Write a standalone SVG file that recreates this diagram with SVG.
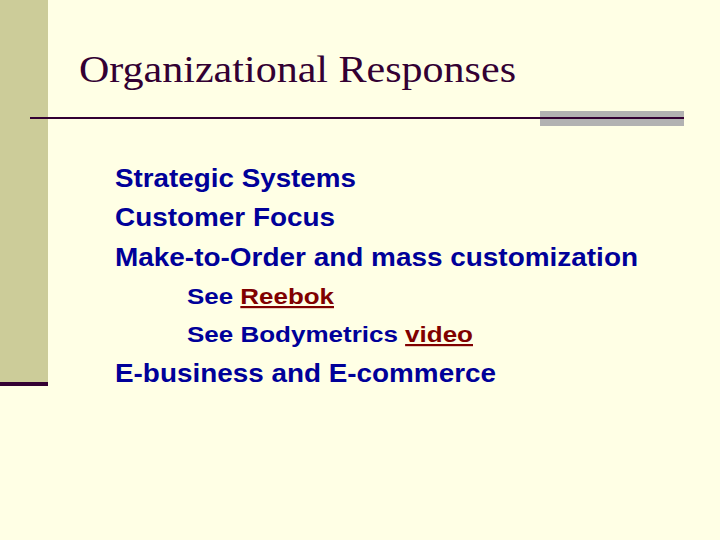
<svg xmlns="http://www.w3.org/2000/svg" width="720" height="540" viewBox="0 0 720 540">
<style>
.b{font-family:"Liberation Sans",Arial,sans-serif;font-weight:bold;fill:#000099}
.l{font-size:25px}
.s{font-size:22px}
.k{fill:#800000;text-decoration:underline}
</style>
<rect width="720" height="540" fill="#FFFFE5"/>
<rect x="0" y="0" width="48" height="382" fill="#CCCC99"/>
<rect x="0" y="382" width="48" height="4" fill="#330033"/>
<rect x="540" y="111" width="144" height="15" fill="#B2B2B2"/>
<rect x="30" y="117" width="654" height="2" fill="#330033"/>
<text x="79" y="82" font-family="'Liberation Serif','Times New Roman',serif" font-size="38" fill="#330033" textLength="437" lengthAdjust="spacingAndGlyphs">Organizational Responses</text>
<text class="b l" x="115" y="187" textLength="241" lengthAdjust="spacingAndGlyphs">Strategic Systems</text>
<text class="b l" x="115" y="226" textLength="220" lengthAdjust="spacingAndGlyphs">Customer Focus</text>
<text class="b l" x="115" y="266" textLength="523" lengthAdjust="spacingAndGlyphs">Make-to-Order and mass customization</text>
<text class="b s" x="187" y="304" textLength="147" lengthAdjust="spacingAndGlyphs">See <tspan class="k">Reebok</tspan></text>
<text class="b s" x="187" y="342" textLength="286" lengthAdjust="spacingAndGlyphs">See Bodymetrics <tspan class="k">video</tspan></text>
<text class="b l" x="115" y="382" textLength="381" lengthAdjust="spacingAndGlyphs">E-business and E-commerce</text>
</svg>
